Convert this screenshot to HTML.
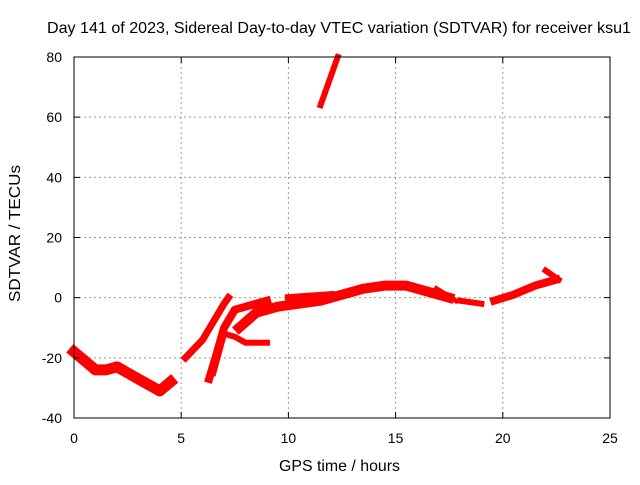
<!DOCTYPE html>
<html><head><meta charset="utf-8"><style>
body{margin:0;background:#fff;font-family:"Liberation Sans",sans-serif}
text{font-family:"Liberation Sans",sans-serif;font-size:14px;fill:#000}
.big{font-size:16px}
</style></head><body>
<svg id="chart" width="640" height="480" xmlns="http://www.w3.org/2000/svg">
<text class="big" x="47" y="33" textLength="584" lengthAdjust="spacingAndGlyphs">Day 141 of 2023, Sidereal Day-to-day VTEC variation (SDTVAR) for receiver ksu1</text>
<g id="grid"></g>
<g id="series"></g>
<rect x="74" y="57" width="536" height="361" fill="none" stroke="#000" stroke-width="1"/>
<g id="ticks"></g>
<text class="big" x="279" y="471" textLength="121" lengthAdjust="spacingAndGlyphs">GPS time / hours</text>
<text class="big" transform="translate(20,302) rotate(-90)" textLength="137" lengthAdjust="spacingAndGlyphs">SDTVAR / TECUs</text>
</svg>
<script>
const xTicks=[0,5,10,15,20,25];
const yTicks=[-40,-20,0,20,40,60,80];
const trackA_t=[0,0.5,1,1.5,2,2.5,3,3.5,4,4.5];
const trackA_v=[-18,-21,-24,-24,-23,-25,-27,-29,-31,-28];
const trackB_t=[5.2,6,6.5,7,7.2];
const trackB_v=[-20,-14,-8,-2,0];
const trackC_t=[6.3,6.6,7,7.5,8,9];
const trackC_v=[-27,-20,-10,-4,-3,-1];
const trackD_t=[6.5,7,7.5,8,9];
const trackD_v=[-25,-12,-13,-15,-15];
const trackE_t=[7.7,8.5,9.5,10.5,11.5,12.5,13.5,14.5,15.5,16.5,17.5];
const trackE_v=[-10,-5,-3,-2,-1,1,3,4,4,2,0];
const trackF_t=[10,11,12];
const trackF_v=[0,0.5,1];
const trackG_t=[18,19];
const trackG_v=[-1,-2];
const trackH_t=[19.6,20.5,21.5,22.5];
const trackH_v=[-1,1,4,6];
const trackI_t=[22,22.6];
const trackI_v=[9,6];
const trackJ_t=[11.5,12.3];
const trackJ_v=[64,80];
const trackK_t=[16.9,17.8];
const trackK_v=[3,-1];
const tracks=[[trackA_t,trackA_v,11],[trackB_t,trackB_v,7],[trackC_t,trackC_v,8],[trackD_t,trackD_v,6],[trackE_t,trackE_v,10],[trackF_t,trackF_v,7],[trackG_t,trackG_v,6],[trackH_t,trackH_v,8],[trackI_t,trackI_v,6],[trackJ_t,trackJ_v,6],[trackK_t,trackK_v,5]];
const X=t=>74+t*(536/25);
const Y=v=>418-(v+40)*(361/120);
const NS="http://www.w3.org/2000/svg";
const grid=document.getElementById('grid'),ticks=document.getElementById('ticks'),series=document.getElementById('series');
function mk(tag,attrs,parent){const e=document.createElementNS(NS,tag);for(const k in attrs)e.setAttribute(k,attrs[k]);parent.appendChild(e);return e;}
xTicks.forEach(t=>{
 const x=X(t);
 if(t>0&&t<25){const l=mk('line',{x1:x,y1:57,x2:x,y2:418,stroke:'#999','stroke-dasharray':'2,3'},grid);
 
 }
 const tk=mk('path',{d:`M${x} 418v-6M${x} 57v6`,stroke:'#000'},ticks);
 
 
 const tx=mk('text',{x:x,y:443,'text-anchor':'middle'},ticks);tx.textContent=t;
 
 
});
yTicks.forEach(v=>{
 const y=Y(v);
 if(v>-40&&v<80){const l=mk('line',{x1:74,y1:y,x2:610,y2:y,stroke:'#999','stroke-dasharray':'2,3'},grid);
 
 }
 const tk=mk('path',{d:`M74 ${y}h6M610 ${y}h-6`,stroke:'#000'},ticks);
 
 
 const tx=mk('text',{x:62,y:y+5,'text-anchor':'end'},ticks);tx.textContent=v;
 
 
});
tracks.forEach(([ts,vs,w])=>{
 const p=mk('polyline',{points:ts.map((t,i)=>X(t)+','+Y(vs[i])).join(' '),fill:'none',stroke:'#f00','stroke-width':w,'stroke-linejoin':'round','stroke-linecap':'square'},series);
 
 
});
</script>
</body></html>
